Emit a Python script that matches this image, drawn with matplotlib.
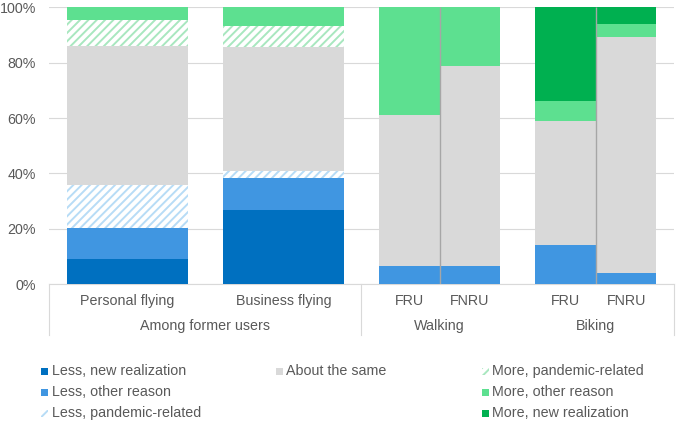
import numpy as np
import matplotlib
matplotlib.use("Agg")
import matplotlib.pyplot as plt
from matplotlib.patches import Rectangle
from matplotlib.transforms import blended_transform_factory

plt.rcParams["font.family"] = ["Liberation Sans", "DejaVu Sans"]
plt.rcParams["hatch.linewidth"] = 1.4

# --- data (percent of respondents) ---
bar_labels = ["Personal flying", "Business flying", "FRU", "FNRU", "FRU", "FNRU"]
bar_slot = [0, 1, 2, 2, 3, 3]          # which group slot the bar sits in
bar_side = [0, 0, -1, 1, -1, 1]        # 0 = full bar, -1/1 = left/right half
group_labels = ["Among former users", "Walking", "Biking"]
group_slots = [(0, 1), (2, 2), (3, 3)]

less_new = [9.2, 26.7, 0, 0, 0, 0]
less_other = [11.1, 11.8, 6.7, 6.6, 14.1, 4.2]
less_pandemic = [15.4, 2.3, 0, 0, 0, 0]
same = [50.3, 44.9, 54.4, 72.3, 45.0, 85.2]
more_pandemic = [9.4, 7.7, 0, 0, 0, 0]
more_other = [4.6, 6.6, 38.9, 21.1, 7.0, 4.5]
more_new = [0, 0, 0, 0, 33.9, 6.1]

series = [
    ("Less, new realization", less_new, "#0070C0", None),
    ("Less, other reason", less_other, "#4096E1", None),
    ("Less, pandemic-related", less_pandemic, "white", "#B7DCF6"),
    ("About the same", same, "#D9D9D9", None),
    ("More, pandemic-related", more_pandemic, "white", "#A8E7BF"),
    ("More, other reason", more_other, "#5DE090", None),
    ("More, new realization", more_new, "#00B050", None),
]

TEXT = "#595959"
GRID = "#D9D9D9"
FS = 10.3
W, H = 677, 423

fig = plt.figure(figsize=(W / 100, H / 100), dpi=100)
ax = fig.add_axes([49 / W, 1 - 284.3 / H, 625 / W, 277 / H])

full_w = 0.775
slot = np.array(bar_slot, float)
side = np.array(bar_side, float)
x = slot + side * full_w / 4
width = np.where(side == 0, full_w, full_w / 2)

bottom = np.zeros(len(bar_labels))
for name, vals, color, hatch_col in series:
    vals = np.array(vals, float)
    if hatch_col:
        ax.bar(x, vals, width, bottom=bottom, color=color, edgecolor=hatch_col,
               hatch="////", linewidth=0, zorder=2)
    else:
        ax.bar(x, vals, width, bottom=bottom, color=color, linewidth=0, zorder=2)
    bottom += vals

# thin divider where two half bars touch
split_slots = sorted(set(s for s, d in zip(bar_slot, bar_side) if d != 0))
ax.vlines(split_slots, 0, 100, color="#A6A6A6", lw=1.0, zorder=3)

ax.set_xlim(-0.5, 3.5)
ax.set_ylim(0, 100)
ax.set_yticks(np.arange(0, 101, 20))
ax.set_yticklabels([f"{v}%" for v in range(0, 101, 20)])
ax.tick_params(axis="y", length=0, pad=9.5, labelsize=FS, labelcolor=TEXT)
ax.set_xticks([])
ax.grid(axis="y", color=GRID, lw=0.8, zorder=0)
for s in ["top", "right", "left"]:
    ax.spines[s].set_visible(False)
ax.spines["bottom"].set_color(GRID)
ax.spines["bottom"].set_linewidth(0.8)
ax.spines["bottom"].set_zorder(1)

# two-level category axis
ah = 277.0
tr = blended_transform_factory(ax.transData, ax.transAxes)
for lab, xi in zip(bar_labels, x):
    ax.text(xi, -17 / ah, lab, transform=tr, ha="center", va="center",
            fontsize=FS, color=TEXT)
for lab, (a, b) in zip(group_labels, group_slots):
    ax.text((a + b) / 2, -42 / ah, lab, transform=tr, ha="center", va="center",
            fontsize=FS, color=TEXT)
edges = [-0.5] + [b + 0.5 for _, b in group_slots[:1]] + [3.5]
for e in edges:
    ax.plot([e, e], [0, -51 / ah], transform=tr, color=GRID, lw=0.8, clip_on=False)

# legend, three columns laid out like the original
cols = [41, 276, 482]
rows = [371, 392, 413]
layout = [(0, 0), (0, 1), (0, 2), (1, 0), (2, 0), (2, 1), (2, 2)]
for (name, _, color, hatch_col), (c, r) in zip(series, layout):
    x0, yc = cols[c], rows[r]
    rect = Rectangle((x0 / W, 1 - (yc + 3.5) / H), 7 / W, 7 / H,
                     transform=fig.transFigure, facecolor=color,
                     edgecolor=hatch_col if hatch_col else "none",
                     hatch="////" if hatch_col else None, linewidth=0)
    fig.patches.append(rect)
    fig.text((x0 + 10.5) / W, 1 - yc / H, name, ha="left", va="center",
             fontsize=FS, color=TEXT)

fig.savefig("out.png", dpi=100)
